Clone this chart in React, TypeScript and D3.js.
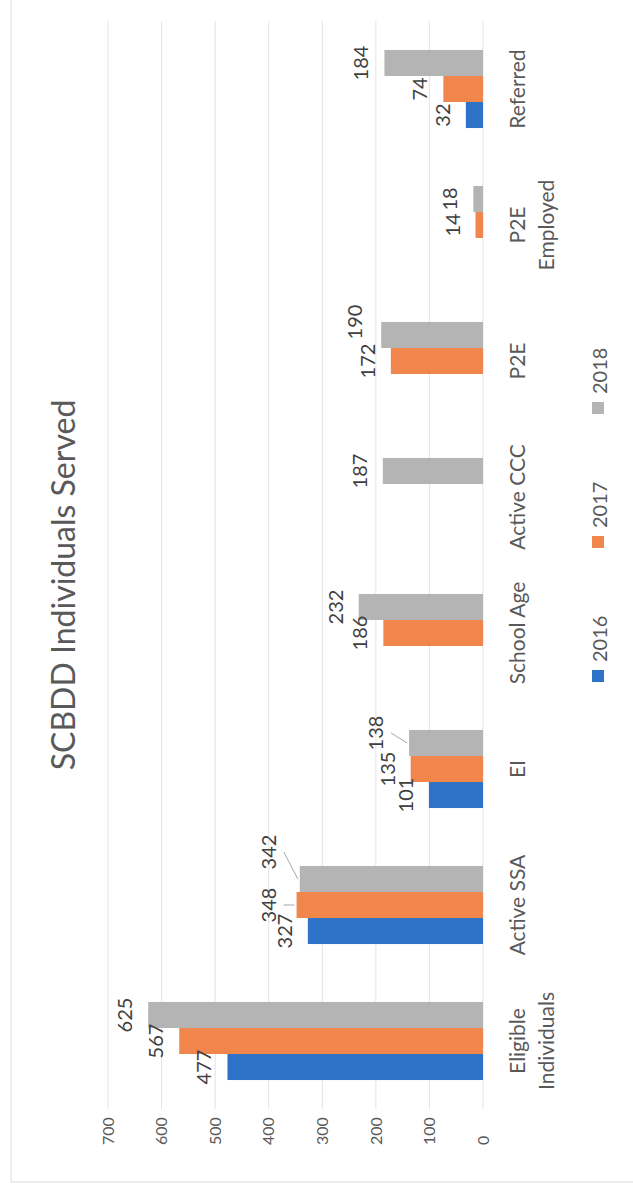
import React, { useRef, useEffect } from "react";
import { select, scaleBand, scaleLinear } from "d3";

const categories = [
  "Eligible Individuals",
  "Active SSA",
  "EI",
  "School Age",
  "Active CCC",
  "P2E",
  "P2E Employed",
  "Referred",
];
const years = ["2016", "2017", "2018"];
const values2016 = [477, 327, 101, null, null, null, null, 32];
const values2017 = [567, 348, 135, 186, null, 172, 14, 74];
const values2018 = [625, 342, 138, 232, 187, 190, 18, 184];
const yTicks = [0, 100, 200, 300, 400, 500, 600, 700];
const colors = ["#2e73c7", "#f0864c", "#b4b4b4"];

// labels that were pushed aside in the original: [du, dv, leader line]
const labelNudge: Record<string, [number, number, boolean]> = {
  "Active SSA|2017": [0, -5, true],
  "Active SSA|2018": [27, -8, true],
  "EI|2018": [10, -10, true],
  "P2E|2018": [13, -3, false],
};

const PAGE_W = 633;
const PAGE_H = 1192;
const FONT = "Lato, 'Open Sans', sans-serif";

const App: React.FC = () => {
  const svgRef = useRef(null);

  useEffect(() => {
    const svg = select(svgRef.current);
    svg.selectAll("*").remove();

    // the whole chart is drawn upright and then turned a quarter to the left
    const g = svg
      .append("g")
      .attr("transform", `translate(0,${PAGE_H}) rotate(-90)`)
      .style("font-family", FONT);

    //scales
    const x0 = scaleBand<string>()
      .domain(categories)
      .range([83, 1171])
      .paddingInner(0.426)
      .paddingOuter(0.213);
    const x1 = scaleBand<string>().domain(years).range([0, x0.bandwidth()]);
    const y = scaleLinear().domain([0, 700]).range([483, 108]);

    // outer frame
    g.append("rect")
      .attr("x", 10)
      .attr("y", 11)
      .attr("width", 1400)
      .attr("height", 800)
      .attr("fill", "none")
      .attr("stroke", "#dcdcdc");

    //gridlines
    g.append("g")
      .selectAll("line")
      .data(yTicks)
      .join("line")
      .attr("x1", 83)
      .attr("x2", 1171)
      .attr("y1", (d) => y(d))
      .attr("y2", (d) => y(d))
      .attr("stroke", "#e4e4e4")
      .attr("stroke-width", 1);

    //tick labels
    g.append("g")
      .selectAll("text")
      .data(yTicks)
      .join("text")
      .attr("x", 47)
      .attr("y", (d) => y(d))
      .attr("dy", "0.36em")
      .attr("font-size", 16)
      .attr("fill", "#595959")
      .text((d) => d);

    const series = [values2016, values2017, values2018];
    const bars = series.flatMap((vals, si) =>
      vals.map((v, ci) => ({ cat: categories[ci], year: years[si], si, v }))
    ).filter((d) => d.v !== null) as { cat: string; year: string; si: number; v: number }[];

    g.append("g")
      .selectAll("rect")
      .data(bars)
      .join("rect")
      .attr("x", (d) => (x0(d.cat) as number) + (x1(d.year) as number))
      .attr("y", (d) => y(d.v))
      .attr("width", x1.bandwidth())
      .attr("height", (d) => y(0) - y(d.v))
      .attr("fill", (d) => colors[d.si]);

    //data labels
    const labels = g.append("g");
    bars.forEach((d) => {
      const nudge = labelNudge[`${d.cat}|${d.year}`] || [0, 0, false];
      const cx = (x0(d.cat) as number) + (x1(d.year) as number) + x1.bandwidth() / 2;
      const lx = cx + nudge[0];
      const ly = y(d.v) - 16 + nudge[1];
      labels
        .append("text")
        .attr("x", lx)
        .attr("y", ly)
        .attr("text-anchor", "middle")
        .attr("font-size", 20)
        .attr("fill", "#404040")
        .text(d.v);
      if (nudge[2]) {
        labels
          .append("line")
          .attr("x1", lx)
          .attr("y1", ly + 8)
          .attr("x2", cx)
          .attr("y2", y(d.v) - 2)
          .attr("stroke", "#a6a6a6")
          .attr("stroke-width", 1);
      }
    });

    //category labels
    const catG = g.append("g");
    categories.forEach((c) => {
      const lines = c.length > 11 ? c.split(" ") : [c];
      const t = catG
        .append("text")
        .attr("text-anchor", "middle")
        .attr("font-size", 21)
        .attr("fill", "#595959");
      lines.forEach((ln, i) => {
        t.append("tspan")
          .attr("x", (x0(c) as number) + x0.bandwidth() / 2)
          .attr("y", 525 + i * 29)
          .text(ln);
      });
    });

    //title
    g.append("text")
      .attr("x", 607)
      .attr("y", 75)
      .attr("text-anchor", "middle")
      .attr("font-size", 32)
      .attr("fill", "#595959")
      .text("SCBDD Individuals Served");

    //legend
    const legend = g.append("g");
    years.forEach((yr, i) => {
      legend
        .append("rect")
        .attr("x", 510 + i * 134)
        .attr("y", 592)
        .attr("width", 12)
        .attr("height", 12)
        .attr("fill", colors[i]);
      legend
        .append("text")
        .attr("x", 530 + i * 134)
        .attr("y", 607)
        .attr("font-size", 20)
        .attr("fill", "#595959")
        .text(yr);
    });
  }, []);

  return (
    <svg
      ref={svgRef}
      width={PAGE_W}
      height={PAGE_H}
      style={{ position: "absolute", left: 0, top: 0, background: "#fff" }}
    ></svg>
  );
};

export default App;
